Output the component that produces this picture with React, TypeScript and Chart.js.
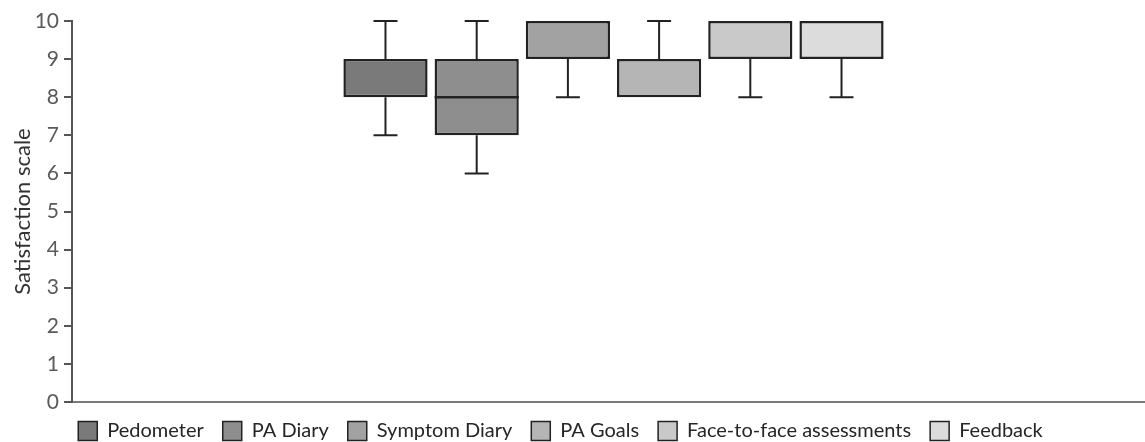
import React, { useEffect, useRef } from "react";
import { Chart, registerables } from "chart.js";

Chart.register(...registerables);

const categories = [
  "Pedometer",
  "PA Diary",
  "Symptom Diary",
  "PA Goals",
  "Face-to-face assessments",
  "Feedback",
];
const minValues = [7, 6, 8, 8, 8, 8];
const q1Values = [8, 7, 9, 8, 9, 9];
const medianValues = [8, 8, 10, 8, 10, 10];
const q3Values = [9, 9, 10, 9, 10, 10];
const maxValues = [10, 10, 10, 10, 10, 10];
const boxColors = ["#7a7a7a", "#8e8e8e", "#a2a2a2", "#b5b5b5", "#c9c9c9", "#dcdcdc"];
const yMin = 0;
const yMax = 10;
const yStep = 1;
const yTitle = "Satisfaction scale";

const FONT = "Lato";
const LINE = "#222222";

const whiskerPlugin = {
  id: "whiskers",
  afterDatasetsDraw(chart: any) {
    const ctx = chart.ctx;
    const y = chart.scales.y;
    ctx.save();
    ctx.strokeStyle = LINE;
    ctx.lineCap = "butt";
    chart.data.datasets.forEach((_ds: any, i: number) => {
      const meta = chart.getDatasetMeta(i);
      const bar = meta.data[0];
      if (!bar) return;
      const x = bar.x;
      const half = bar.width / 2;
      const cap = 12;
      const yMaxP = y.getPixelForValue(maxValues[i]);
      const yQ3 = y.getPixelForValue(q3Values[i]);
      const yQ1 = y.getPixelForValue(q1Values[i]);
      const yMinP = y.getPixelForValue(minValues[i]);
      const yMed = y.getPixelForValue(medianValues[i]);
      ctx.lineWidth = 2;
      if (maxValues[i] > q3Values[i]) {
        ctx.beginPath();
        ctx.moveTo(x, yQ3);
        ctx.lineTo(x, yMaxP);
        ctx.moveTo(x - cap, yMaxP);
        ctx.lineTo(x + cap, yMaxP);
        ctx.stroke();
      }
      if (minValues[i] < q1Values[i]) {
        ctx.beginPath();
        ctx.moveTo(x, yQ1);
        ctx.lineTo(x, yMinP);
        ctx.moveTo(x - cap, yMinP);
        ctx.lineTo(x + cap, yMinP);
        ctx.stroke();
      }
      if (medianValues[i] > q1Values[i] && medianValues[i] < q3Values[i]) {
        ctx.lineWidth = 2.5;
        ctx.beginPath();
        ctx.moveTo(x - half, yMed);
        ctx.lineTo(x + half, yMed);
        ctx.stroke();
      }
    });
    ctx.restore();
  },
};

const layoutTweak = {
  id: "layoutTweak",
  afterLayout(chart: any) {
    if (chart.legend) {
      chart.legend.left -= 12;
      chart.legend.right -= 12;
    }
    const xs = chart.scales.x;
    if (xs && typeof xs._startPixel === "number") {
      xs._startPixel += 5;
      xs._endPixel += 5;
    }
  },
};

export default function App() {
  const ref = useRef<HTMLCanvasElement | null>(null);

  useEffect(() => {
    document.body.style.margin = "0";
    const canvas = ref.current;
    if (!canvas) return;
    const chart = new Chart(canvas, {
      type: "bar",
      data: {
        labels: [""],
        datasets: categories.map((name, i) => ({
          label: name,
          data: [[q1Values[i], q3Values[i]]] as any,
          backgroundColor: boxColors[i],
          borderColor: LINE,
          borderWidth: 2.5,
          borderSkipped: false,
          categoryPercentage: 0.51,
          barPercentage: 0.923,
        })),
      },
      options: {
        animation: false,
        responsive: false,
        devicePixelRatio: 1,
        layout: { padding: { top: 21, right: 0, left: 0, bottom: 0 } },
        plugins: {
          tooltip: { enabled: false },
          legend: {
            position: "bottom",
            maxHeight: 40,
            labels: {
              font: { family: FONT, size: 20 },
              color: "#262626",
              boxWidth: 19,
              boxHeight: 19,
              padding: 19,
              generateLabels(chart: any) {
                const items = (Chart.defaults.plugins.legend.labels as any).generateLabels(chart);
                return items.map((it: any) => ({ ...it, lineWidth: 1.5 }));
              },
            },
          },
        },
        scales: {
          x: {
            type: "category",
            ticks: { display: false },
            grid: { display: false },
            border: { display: true, color: "#7a7a7a", width: 2 },
            afterFit(scale: any) {
              scale.height = 0;
            },
          },
          y: {
            min: yMin,
            max: yMax,
            ticks: {
              stepSize: yStep,
              font: { family: FONT, size: 21 },
              color: "#5a5a5a",
              padding: 5,
            },
            grid: {
              drawOnChartArea: false,
              drawTicks: true,
              tickLength: 8,
              color: "#555555",
              lineWidth: 2,
            },
            border: { display: true, color: "#555555", width: 2 },
            title: {
              display: true,
              text: yTitle,
              font: { family: FONT, size: 22 },
              color: "#333333",
              padding: { top: 10, bottom: 0 },
            },
            afterFit(scale: any) {
              scale.width = 72;
            },
          },
        },
      },
      plugins: [whiskerPlugin, layoutTweak],
    });
    return () => chart.destroy();
  }, []);

  return (
    <div style={{ width: 1145, height: 442 }}>
      <canvas ref={ref} width={1145} height={442} style={{ display: "block" }} />
    </div>
  );
}
